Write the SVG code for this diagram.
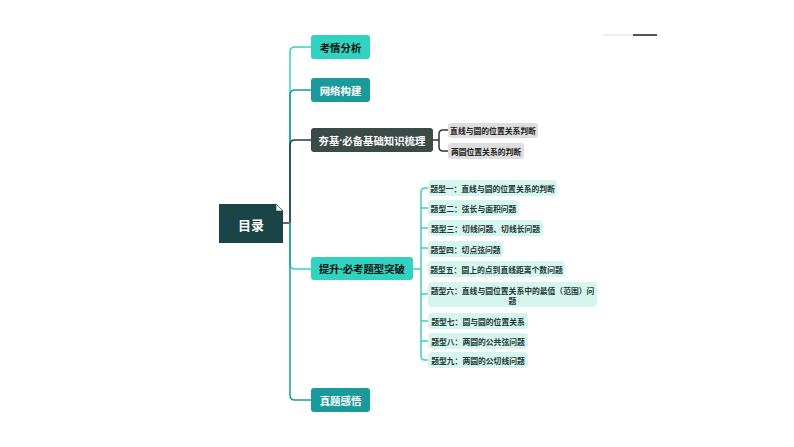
<svg xmlns="http://www.w3.org/2000/svg" width="794" height="447" viewBox="0 0 794 447">
<style>
text{font-family:"Noto Sans CJK SC","Noto Sans",sans-serif;font-weight:bold;dominant-baseline:central;text-anchor:middle}
.dot{font-family:"Noto Sans","DejaVu Sans",sans-serif}
.main{font-size:10.4px}
.w{fill:#ffffff}
.k{fill:#111111}
.sub{font-size:7.8px;fill:#1f3a36;font-weight:bold}
.gsub{font-size:7.8px;fill:#222222;font-weight:bold}
.ln{fill:none;stroke-width:1.5;stroke-linecap:round}
.bt{fill:#30d3bf}
.dt{fill:#1a9a9b}
.dg{fill:#3b4b48}
.mint{fill:#d7f5ef}
.gray{fill:#dedede}
</style>
<rect width="794" height="447" fill="#ffffff"/>
<line x1="603" y1="35" x2="633" y2="35" stroke="#eeeeee" stroke-width="2"/>
<line x1="633" y1="35" x2="657" y2="35" stroke="#555555" stroke-width="2"/>
<g id="connectors">
<path class="ln" stroke="#30d3bf" d="M290,223 V52 Q290,47 295,47 H311"/>
<path class="ln" stroke="#1a9a9b" d="M290,223 V95 Q290,90 295,90 H311"/>
<path class="ln" stroke="#2f3a38" d="M283,223 H290 M290,223 V145 Q290,140 295,140 H311"/>
<path class="ln" stroke="#30d3bf" d="M290,223 V264 Q290,269 295,269 H311"/>
<path class="ln" stroke="#1a9a9b" d="M290,223 V395 Q290,400 295,400 H311"/>
<path class="ln" stroke="#333333" stroke-width="1" d="M433,140 H439 M439,140 V134 Q439,130 443,130 H448 M439,140 V147 Q439,151 443,151 H448"/>
<path class="ln" stroke="#3dd0be" stroke-width="1.2" d="M413,269 H421 M421,269 V192 Q421,188 425,188 H428 M421,269 V356 Q421,360 425,360 H428 M421,208 H428 M421,228 H428 M421,248 H428 M421,294 H428 M421,321 H428 M421,341 H428"/>
</g>
<g id="root">
<path d="M219,204 H276 L283,211 V243 H219 Z" fill="#1a4446"/>
<path d="M276,204 L283,211 H276 Z" fill="#eef2f2" stroke="#1a4446" stroke-width="0.6"/>
<text x="251" y="224" font-size="13" class="w">目录</text>
</g>
<g id="n1">
<rect x="311" y="35" width="59" height="24" rx="3" class="bt"/>
<text x="340.5" y="47" class="main k">考情分析</text>
</g>
<g id="n2">
<rect x="311" y="78" width="59" height="24" rx="3" class="dt"/>
<text x="340.5" y="90" class="main w">网络构建</text>
</g>
<g id="n3">
<rect x="311" y="128" width="122" height="24" rx="3" class="dg"/>
<text x="372" y="140" class="main w">夯基<tspan class="dot">·</tspan>必备基础知识梳理</text>
</g>
<g id="n3a">
<rect x="448" y="123" width="90" height="15" rx="3" class="gray"/>
<text x="493" y="130.5" class="gsub">直线与圆的位置关系判断</text>
</g>
<g id="n3b">
<rect x="448" y="143" width="76" height="16" rx="3" class="gray"/>
<text x="486" y="151" class="gsub">两圆位置关系的判断</text>
</g>
<g id="n4">
<rect x="311" y="257" width="102" height="23" rx="3" class="bt"/>
<text x="362" y="268.5" class="main k">提升<tspan class="dot">·</tspan>必考题型突破</text>
</g>
<g id="t1">
<rect x="428" y="180" width="129" height="16" rx="4" class="mint"/>
<text x="492.5" y="188" class="sub">题型一：直线与圆的位置关系的判断</text>
</g>
<g id="t2">
<rect x="428" y="200" width="91" height="16" rx="4" class="mint"/>
<text x="473.5" y="208" class="sub">题型二：弦长与面积问题</text>
</g>
<g id="t3">
<rect x="428" y="220" width="115" height="16" rx="4" class="mint"/>
<text x="485.5" y="228" class="sub">题型三：切线问题、切线长问题</text>
</g>
<g id="t4">
<rect x="428" y="241" width="75" height="16" rx="4" class="mint"/>
<text x="465.5" y="249" class="sub">题型四：切点弦问题</text>
</g>
<g id="t5">
<rect x="428" y="261" width="137" height="16" rx="4" class="mint"/>
<text x="496.5" y="269" class="sub">题型五：圆上的点到直线距离个数问题</text>
</g>
<g id="t6">
<rect x="428" y="282" width="169" height="25" rx="4" class="mint"/>
<text x="512.5" y="290" class="sub">题型六：直线与圆位置关系中的最值（范围）问</text>
<text x="512.5" y="300" class="sub">题</text>
</g>
<g id="t7">
<rect x="428" y="313" width="100" height="16" rx="4" class="mint"/>
<text x="478" y="321" class="sub">题型七：圆与圆的位置关系</text>
</g>
<g id="t8">
<rect x="428" y="333" width="100" height="16" rx="4" class="mint"/>
<text x="478" y="341" class="sub">题型八：两圆的公共弦问题</text>
</g>
<g id="t9">
<rect x="428" y="352" width="100" height="16" rx="4" class="mint"/>
<text x="478" y="360" class="sub">题型九：两圆的公切线问题</text>
</g>
<g id="n5">
<rect x="311" y="388" width="59" height="24" rx="3" class="dt"/>
<text x="340.5" y="400" class="main w">真题感悟</text>
</g>
</svg>
